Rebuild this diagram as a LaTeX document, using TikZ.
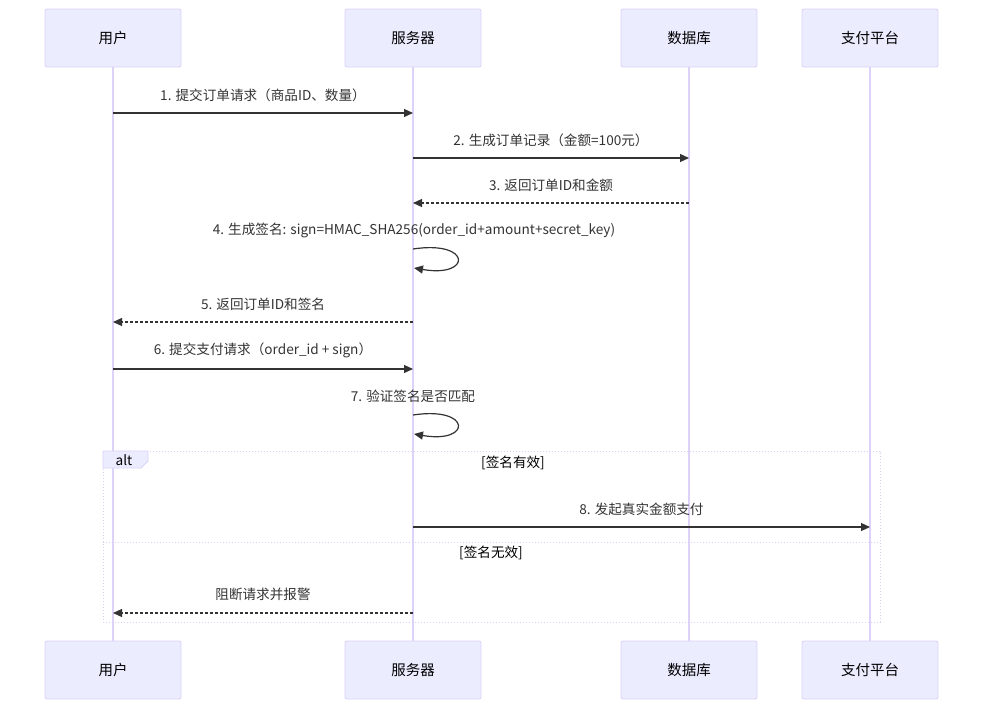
\documentclass[tikz,border=0pt]{standalone}
\usepackage{fontspec}
\setmainfont{Noto Sans CJK SC}
\usetikzlibrary{arrows.meta}
\definecolor{actfill}{HTML}{ECECFF}
\definecolor{actborder}{HTML}{DAD0F6}
\definecolor{lifecol}{HTML}{DDD3F8}
\definecolor{msgcol}{HTML}{333333}

\begin{document}
\begin{tikzpicture}[x=1pt,y=-1pt,
  actor/.style={draw=actborder, fill=actfill, rounded corners=2pt, line width=0.8pt,
    minimum width=136pt, minimum height=58pt, font=\fontsize{14.5}{16}\selectfont},
  life/.style={draw=lifecol, line width=1.8pt},
  msg/.style={draw=msgcol, line width=1.2pt, -{Triangle[length=9pt,width=8pt]}},
  reply/.style={msg, dash pattern=on 3pt off 2pt},
  lbl/.style={font=\fontsize{13.6}{15}\selectfont, text=msgcol},
  altline/.style={draw=actborder, line width=1pt, dotted},
]
  \useasboundingbox (0,0) rectangle (983,710);

  % actors, top and bottom
  \node[actor] (user) at (113,38) {用户};
  \node[actor] (srv) at (413,38) {服务器};
  \node[actor] (db) at (689,38) {数据库};
  \node[actor] (pay) at (870,38) {支付平台};
  \node[actor] (user2) at (113,670) {用户};
  \node[actor] (srv2) at (413,670) {服务器};
  \node[actor] (db2) at (689,670) {数据库};
  \node[actor] (pay2) at (870,670) {支付平台};

  % lifelines
  \draw[life] (user) -- (user2);
  \draw[life] (srv) -- (srv2);
  \draw[life] (db) -- (db2);
  \draw[life] (pay) -- (pay2);

  % alt frame
  \draw[altline] (103,451) rectangle (880,622);
  \draw[altline] (103,542) -- (880,542);
  \draw[draw=actborder, fill=actfill, line width=0.8pt]
    (103,451) -- (148,451) -- (148,461) -- (141,468) -- (103,468) -- cycle;
  \node[lbl, text=black] (alttag) at (124,460) {alt};
  \node[lbl, text=black] (ok) at (513,463) {[签名有效]};
  \node[lbl, text=black] (bad) at (491,553) {[签名无效]};

  % message points
  \coordinate (m1a) at (113,113); \coordinate (m1b) at (413,113);
  \coordinate (m2a) at (413,158); \coordinate (m2b) at (689,158);
  \coordinate (m3a) at (689,203); \coordinate (m3b) at (413,203);
  \coordinate (m4a) at (413,249); \coordinate (m4b) at (414,268);
  \coordinate (m5a) at (413,322); \coordinate (m5b) at (113,322);
  \coordinate (m6a) at (113,369); \coordinate (m6b) at (413,369);
  \coordinate (m7a) at (413,415); \coordinate (m7b) at (414,434);
  \coordinate (m8a) at (413,527); \coordinate (m8b) at (870,527);
  \coordinate (m9a) at (413,613); \coordinate (m9b) at (113,613);

  \draw[msg] (m1a) -- node[lbl, yshift=18pt] {1. 提交订单请求（商品ID、数量）} (m1b);
  \draw[msg] (m2a) -- node[lbl, yshift=18pt] {2. 生成订单记录（金额=100元）} (m2b);
  \draw[reply] (m3a) -- node[lbl, yshift=18pt] {3. 返回订单ID和金额} (m3b);
  \node[lbl] (t4) at (414,230) {4. 生成签名: sign=HMAC\_SHA256(order\_id+amount+secret\_key)};
  \draw[msg] (m4a) .. controls (472,240) and (472,278) .. (m4b);
  \draw[reply] (m5a) -- node[lbl, yshift=18pt] {5. 返回订单ID和签名} (m5b);
  \draw[msg] (m6a) -- node[lbl, yshift=19pt] {6. 提交支付请求（order\_id + sign）} (m6b);
  \node[lbl] (t7) at (413,396) {7. 验证签名是否匹配};
  \draw[msg] (m7a) .. controls (472,406) and (472,444) .. (m7b);
  \draw[msg] (m8a) -- node[lbl, yshift=18pt] {8. 发起真实金额支付} (m8b);
  \draw[reply] (m9a) -- node[lbl, yshift=19pt] {阻断请求并报警} (m9b);
\end{tikzpicture}
\end{document}
